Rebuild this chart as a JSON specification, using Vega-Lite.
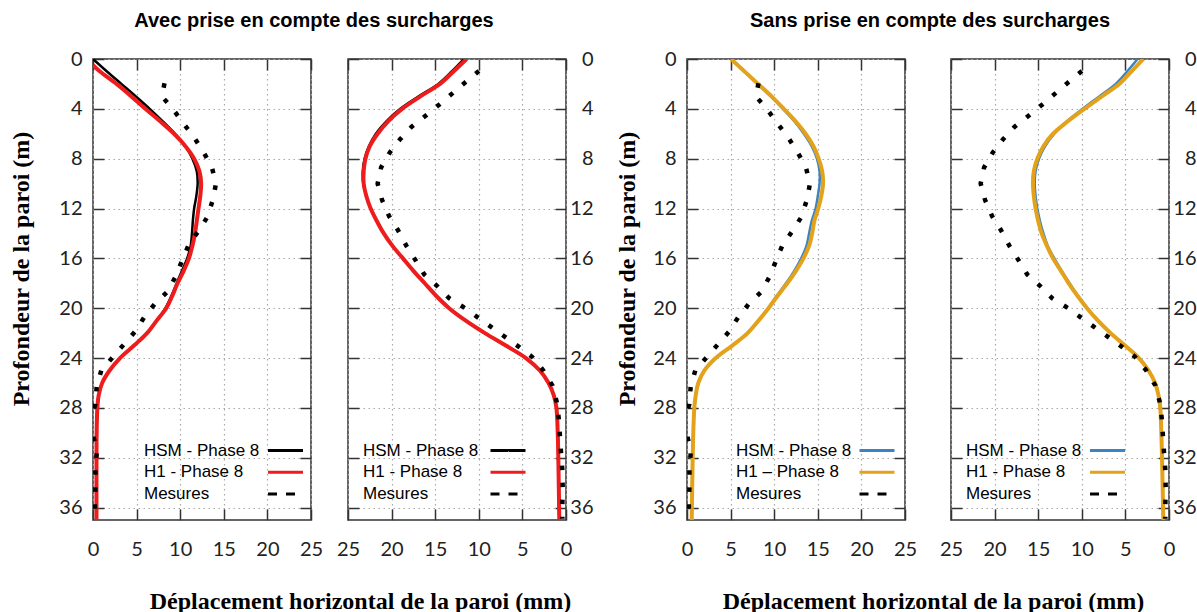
{
  "$schema": "https://vega.github.io/schema/vega-lite/v6.json",
  "autosize": {"type": "none"},
  "padding": {"left": 93, "top": 59, "right": 1104, "bottom": 553},
  "background": "white",
  "bounds": "full",
  "spacing": 20,
  "resolve": {"scale": {"color": "independent"}, "legend": {"color": "independent"}},
  "config": {
    "font": "Liberation Sans",
    "view": {"stroke": "#333333", "strokeWidth": 1.5},
    "axis": {
      "domain": false, "labelFont": "Lato", "labelFontSize": 20, "labelColor": "#222222",
      "labelFlush": false, "labelOverlap": false, "labelBound": false,
      "tickColor": "#333333", "tickWidth": 1.5, "tickSize": -11,
      "gridColor": "#a8a8a8", "gridDash": [1.5, 3.5], "gridWidth": 1.2,
      "titleFont": "Liberation Serif", "titleFontSize": 24, "titleFontWeight": "bold", "titleColor": "black"
    },
    "legend": {
      "labelFont": "Liberation Sans", "labelFontSize": 17, "labelColor": "black",
      "symbolType": "M-3.5,0H3.5", "symbolSize": 100, "symbolStrokeWidth": 3,
      "rowPadding": 3.8, "padding": 0
    },
    "title": {"font": "Liberation Sans", "fontSize": 20, "fontWeight": "bold", "color": "black"}
  },
  "datasets": {
    "mes45": [
      {"s":"Mesures","x":8.2,"d":1.95},{"s":"Mesures","x":7.9,"d":3.0},{"s":"Mesures","x":9.2,"d":4.05},{"s":"Mesures","x":10.4,"d":5.2},
      {"s":"Mesures","x":11.6,"d":6.3},{"s":"Mesures","x":12.6,"d":7.4},{"s":"Mesures","x":13.6,"d":8.6},{"s":"Mesures","x":14.1,"d":10.0},
      {"s":"Mesures","x":13.75,"d":11.3},{"s":"Mesures","x":13.1,"d":12.7},{"s":"Mesures","x":12.1,"d":13.8},{"s":"Mesures","x":10.95,"d":14.95},
      {"s":"Mesures","x":10.2,"d":16.2},{"s":"Mesures","x":9.45,"d":17.5},{"s":"Mesures","x":8.5,"d":18.7},{"s":"Mesures","x":7.1,"d":19.65},
      {"s":"Mesures","x":5.9,"d":20.7},{"s":"Mesures","x":4.8,"d":21.9},{"s":"Mesures","x":3.55,"d":22.9},{"s":"Mesures","x":2.3,"d":23.9},
      {"s":"Mesures","x":0.95,"d":25.0},{"s":"Mesures","x":0.42,"d":26.3},{"s":"Mesures","x":0.27,"d":27.7},{"s":"Mesures","x":-0.3,"d":29.0},
      {"s":"Mesures","x":0.0,"d":30.2},{"s":"Mesures","x":0.46,"d":31.4},{"s":"Mesures","x":0.27,"d":32.8},{"s":"Mesures","x":0.3,"d":34.1},
      {"s":"Mesures","x":0.2,"d":35.5},{"s":"Mesures","x":0.25,"d":36.9}
    ],
    "mes10": [
      {"s":"Mesures","x":9.98,"d":0.96},{"s":"Mesures","x":11.6,"d":1.9},{"s":"Mesures","x":13.1,"d":2.8},{"s":"Mesures","x":14.6,"d":3.7},
      {"s":"Mesures","x":16.1,"d":4.55},{"s":"Mesures","x":17.7,"d":5.43},{"s":"Mesures","x":19.0,"d":6.42},{"s":"Mesures","x":20.2,"d":7.5},
      {"s":"Mesures","x":21.2,"d":8.7},{"s":"Mesures","x":21.6,"d":10.0},{"s":"Mesures","x":21.1,"d":11.3},{"s":"Mesures","x":20.3,"d":12.6},
      {"s":"Mesures","x":19.3,"d":13.7},{"s":"Mesures","x":18.3,"d":15.0},{"s":"Mesures","x":17.3,"d":16.1},{"s":"Mesures","x":16.25,"d":17.3},
      {"s":"Mesures","x":14.8,"d":18.2},{"s":"Mesures","x":13.4,"d":19.2},{"s":"Mesures","x":11.8,"d":19.9},{"s":"Mesures","x":10.2,"d":20.7},
      {"s":"Mesures","x":8.6,"d":21.5},{"s":"Mesures","x":7.0,"d":22.3},{"s":"Mesures","x":5.4,"d":23.1},{"s":"Mesures","x":3.9,"d":23.9},
      {"s":"Mesures","x":2.6,"d":25.0},{"s":"Mesures","x":1.57,"d":26.2},{"s":"Mesures","x":1.07,"d":27.5},{"s":"Mesures","x":0.84,"d":28.8},
      {"s":"Mesures","x":0.69,"d":30.3},{"s":"Mesures","x":0.57,"d":31.6},{"s":"Mesures","x":0.42,"d":33.0},{"s":"Mesures","x":0.38,"d":34.4},
      {"s":"Mesures","x":0.42,"d":35.8},{"s":"Mesures","x":0.42,"d":36.9}
    ],
    "p45a_hsm": [
      {"s":"HSM - Phase 8","x":0,"d":0},{"s":"HSM - Phase 8","x":1.6,"d":1},{"s":"HSM - Phase 8","x":3.25,"d":2},{"s":"HSM - Phase 8","x":4.9,"d":3},
      {"s":"HSM - Phase 8","x":6.5,"d":4},{"s":"HSM - Phase 8","x":8.0,"d":5},{"s":"HSM - Phase 8","x":9.4,"d":6},{"s":"HSM - Phase 8","x":10.6,"d":7},
      {"s":"HSM - Phase 8","x":11.4,"d":8},{"s":"HSM - Phase 8","x":11.9,"d":9},{"s":"HSM - Phase 8","x":12.0,"d":10},{"s":"HSM - Phase 8","x":11.85,"d":11},
      {"s":"HSM - Phase 8","x":11.6,"d":12},{"s":"HSM - Phase 8","x":11.45,"d":13},{"s":"HSM - Phase 8","x":11.35,"d":14},{"s":"HSM - Phase 8","x":11.2,"d":15},
      {"s":"HSM - Phase 8","x":10.8,"d":16},{"s":"HSM - Phase 8","x":10.2,"d":17},{"s":"HSM - Phase 8","x":9.6,"d":18},{"s":"HSM - Phase 8","x":9.0,"d":19},
      {"s":"HSM - Phase 8","x":8.3,"d":20},{"s":"HSM - Phase 8","x":7.3,"d":21},{"s":"HSM - Phase 8","x":6.2,"d":22},{"s":"HSM - Phase 8","x":4.7,"d":23},
      {"s":"HSM - Phase 8","x":3.1,"d":24},{"s":"HSM - Phase 8","x":1.9,"d":25},{"s":"HSM - Phase 8","x":1.05,"d":26},{"s":"HSM - Phase 8","x":0.65,"d":27},
      {"s":"HSM - Phase 8","x":0.5,"d":28},{"s":"HSM - Phase 8","x":0.42,"d":30},{"s":"HSM - Phase 8","x":0.4,"d":33},{"s":"HSM - Phase 8","x":0.4,"d":37}
    ],
    "p45a_h1": [
      {"s":"H1 - Phase 8","x":0,"d":0.5},{"s":"H1 - Phase 8","x":0.8,"d":1},{"s":"H1 - Phase 8","x":2.7,"d":2},{"s":"H1 - Phase 8","x":4.4,"d":3},
      {"s":"H1 - Phase 8","x":6.0,"d":4},{"s":"H1 - Phase 8","x":7.7,"d":5},{"s":"H1 - Phase 8","x":9.3,"d":6},{"s":"H1 - Phase 8","x":10.6,"d":7},
      {"s":"H1 - Phase 8","x":11.6,"d":8},{"s":"H1 - Phase 8","x":12.2,"d":9},{"s":"H1 - Phase 8","x":12.4,"d":10},{"s":"H1 - Phase 8","x":12.3,"d":11},
      {"s":"H1 - Phase 8","x":12.1,"d":12},{"s":"H1 - Phase 8","x":11.9,"d":13},{"s":"H1 - Phase 8","x":11.7,"d":14},{"s":"H1 - Phase 8","x":11.4,"d":15},
      {"s":"H1 - Phase 8","x":11.0,"d":16},{"s":"H1 - Phase 8","x":10.4,"d":17},{"s":"H1 - Phase 8","x":9.7,"d":18},{"s":"H1 - Phase 8","x":9.1,"d":19},
      {"s":"H1 - Phase 8","x":8.4,"d":20},{"s":"H1 - Phase 8","x":7.3,"d":21},{"s":"H1 - Phase 8","x":6.2,"d":22},{"s":"H1 - Phase 8","x":4.7,"d":23},
      {"s":"H1 - Phase 8","x":3.1,"d":24},{"s":"H1 - Phase 8","x":1.9,"d":25},{"s":"H1 - Phase 8","x":1.05,"d":26},{"s":"H1 - Phase 8","x":0.65,"d":27},
      {"s":"H1 - Phase 8","x":0.5,"d":28},{"s":"H1 - Phase 8","x":0.42,"d":30},{"s":"H1 - Phase 8","x":0.4,"d":33},{"s":"H1 - Phase 8","x":0.4,"d":37}
    ],
    "p10a_hsm": [
      {"s":"HSM - Phase 8","x":11.7,"d":0},{"s":"HSM - Phase 8","x":13.1,"d":1},{"s":"HSM - Phase 8","x":14.65,"d":2},{"s":"HSM - Phase 8","x":16.9,"d":3},
      {"s":"HSM - Phase 8","x":19.0,"d":4},{"s":"HSM - Phase 8","x":20.6,"d":5},{"s":"HSM - Phase 8","x":21.8,"d":6},{"s":"HSM - Phase 8","x":22.6,"d":7},
      {"s":"HSM - Phase 8","x":23.1,"d":8},{"s":"HSM - Phase 8","x":23.3,"d":9},{"s":"HSM - Phase 8","x":23.25,"d":10},{"s":"HSM - Phase 8","x":22.9,"d":11},
      {"s":"HSM - Phase 8","x":22.4,"d":12},{"s":"HSM - Phase 8","x":21.7,"d":13},{"s":"HSM - Phase 8","x":20.9,"d":14},{"s":"HSM - Phase 8","x":19.9,"d":15},
      {"s":"HSM - Phase 8","x":18.7,"d":16},{"s":"HSM - Phase 8","x":17.5,"d":17},{"s":"HSM - Phase 8","x":16.2,"d":18},{"s":"HSM - Phase 8","x":14.9,"d":19},
      {"s":"HSM - Phase 8","x":13.4,"d":20},{"s":"HSM - Phase 8","x":11.5,"d":21},{"s":"HSM - Phase 8","x":9.3,"d":22},{"s":"HSM - Phase 8","x":6.9,"d":23},
      {"s":"HSM - Phase 8","x":4.6,"d":24},{"s":"HSM - Phase 8","x":3.0,"d":25},{"s":"HSM - Phase 8","x":2.0,"d":26},{"s":"HSM - Phase 8","x":1.4,"d":27},
      {"s":"HSM - Phase 8","x":1.1,"d":28},{"s":"HSM - Phase 8","x":0.95,"d":30},{"s":"HSM - Phase 8","x":0.88,"d":32},{"s":"HSM - Phase 8","x":0.77,"d":37}
    ],
    "p10a_h1": [
      {"s":"H1 - Phase 8","x":11.4,"d":0},{"s":"H1 - Phase 8","x":12.9,"d":1},{"s":"H1 - Phase 8","x":14.45,"d":2},{"s":"H1 - Phase 8","x":16.7,"d":3},
      {"s":"H1 - Phase 8","x":18.8,"d":4},{"s":"H1 - Phase 8","x":20.4,"d":5},{"s":"H1 - Phase 8","x":21.6,"d":6},{"s":"H1 - Phase 8","x":22.5,"d":7},
      {"s":"H1 - Phase 8","x":23.0,"d":8},{"s":"H1 - Phase 8","x":23.2,"d":9},{"s":"H1 - Phase 8","x":23.2,"d":10},{"s":"H1 - Phase 8","x":22.9,"d":11},
      {"s":"H1 - Phase 8","x":22.4,"d":12},{"s":"H1 - Phase 8","x":21.7,"d":13},{"s":"H1 - Phase 8","x":20.9,"d":14},{"s":"H1 - Phase 8","x":19.9,"d":15},
      {"s":"H1 - Phase 8","x":18.7,"d":16},{"s":"H1 - Phase 8","x":17.5,"d":17},{"s":"H1 - Phase 8","x":16.2,"d":18},{"s":"H1 - Phase 8","x":14.9,"d":19},
      {"s":"H1 - Phase 8","x":13.4,"d":20},{"s":"H1 - Phase 8","x":11.5,"d":21},{"s":"H1 - Phase 8","x":9.3,"d":22},{"s":"H1 - Phase 8","x":6.9,"d":23},
      {"s":"H1 - Phase 8","x":4.6,"d":24},{"s":"H1 - Phase 8","x":3.0,"d":25},{"s":"H1 - Phase 8","x":2.0,"d":26},{"s":"H1 - Phase 8","x":1.4,"d":27},
      {"s":"H1 - Phase 8","x":1.1,"d":28},{"s":"H1 - Phase 8","x":0.95,"d":30},{"s":"H1 - Phase 8","x":0.88,"d":32},{"s":"H1 - Phase 8","x":0.77,"d":37}
    ],
    "p45s_hsm": [
      {"s":"HSM - Phase 8","x":5.05,"d":0},{"s":"HSM - Phase 8","x":6.6,"d":1},{"s":"HSM - Phase 8","x":8.1,"d":2},{"s":"HSM - Phase 8","x":9.6,"d":3},
      {"s":"HSM - Phase 8","x":11.0,"d":4},{"s":"HSM - Phase 8","x":12.3,"d":5},{"s":"HSM - Phase 8","x":13.4,"d":6},{"s":"HSM - Phase 8","x":14.3,"d":7},
      {"s":"HSM - Phase 8","x":14.9,"d":8},{"s":"HSM - Phase 8","x":15.2,"d":9},{"s":"HSM - Phase 8","x":15.2,"d":10},{"s":"HSM - Phase 8","x":15.0,"d":11},
      {"s":"HSM - Phase 8","x":14.75,"d":12},{"s":"HSM - Phase 8","x":14.3,"d":13},{"s":"HSM - Phase 8","x":14.0,"d":14},{"s":"HSM - Phase 8","x":13.7,"d":15},
      {"s":"HSM - Phase 8","x":13.1,"d":16},{"s":"HSM - Phase 8","x":12.3,"d":17},{"s":"HSM - Phase 8","x":11.35,"d":18},{"s":"HSM - Phase 8","x":10.3,"d":19},
      {"s":"HSM - Phase 8","x":9.3,"d":20},{"s":"HSM - Phase 8","x":8.2,"d":21},{"s":"HSM - Phase 8","x":6.95,"d":22},{"s":"HSM - Phase 8","x":5.2,"d":23},
      {"s":"HSM - Phase 8","x":3.3,"d":24},{"s":"HSM - Phase 8","x":2.0,"d":25},{"s":"HSM - Phase 8","x":1.3,"d":26},{"s":"HSM - Phase 8","x":1.0,"d":27},
      {"s":"HSM - Phase 8","x":0.84,"d":28},{"s":"HSM - Phase 8","x":0.72,"d":30},{"s":"HSM - Phase 8","x":0.65,"d":32},{"s":"HSM - Phase 8","x":0.54,"d":37}
    ],
    "p45s_h1": [
      {"s":"H1 – Phase 8","x":5.05,"d":0},{"s":"H1 – Phase 8","x":6.6,"d":1},{"s":"H1 – Phase 8","x":8.15,"d":2},{"s":"H1 – Phase 8","x":9.7,"d":3},
      {"s":"H1 – Phase 8","x":11.1,"d":4},{"s":"H1 – Phase 8","x":12.45,"d":5},{"s":"H1 – Phase 8","x":13.6,"d":6},{"s":"H1 – Phase 8","x":14.5,"d":7},
      {"s":"H1 – Phase 8","x":15.1,"d":8},{"s":"H1 – Phase 8","x":15.5,"d":9},{"s":"H1 – Phase 8","x":15.6,"d":10},{"s":"H1 – Phase 8","x":15.4,"d":11},
      {"s":"H1 – Phase 8","x":15.05,"d":12},{"s":"H1 – Phase 8","x":14.6,"d":13},{"s":"H1 – Phase 8","x":14.35,"d":14},{"s":"H1 – Phase 8","x":14.0,"d":15},
      {"s":"H1 – Phase 8","x":13.35,"d":16},{"s":"H1 – Phase 8","x":12.5,"d":17},{"s":"H1 – Phase 8","x":11.5,"d":18},{"s":"H1 – Phase 8","x":10.4,"d":19},
      {"s":"H1 – Phase 8","x":9.35,"d":20},{"s":"H1 – Phase 8","x":8.2,"d":21},{"s":"H1 – Phase 8","x":6.95,"d":22},{"s":"H1 – Phase 8","x":5.2,"d":23},
      {"s":"H1 – Phase 8","x":3.3,"d":24},{"s":"H1 – Phase 8","x":2.0,"d":25},{"s":"H1 – Phase 8","x":1.3,"d":26},{"s":"H1 – Phase 8","x":1.0,"d":27},
      {"s":"H1 – Phase 8","x":0.84,"d":28},{"s":"H1 – Phase 8","x":0.72,"d":30},{"s":"H1 – Phase 8","x":0.65,"d":32},{"s":"H1 – Phase 8","x":0.54,"d":37}
    ],
    "p10s_hsm": [
      {"s":"HSM - Phase 8","x":3.6,"d":0},{"s":"HSM - Phase 8","x":4.8,"d":1},{"s":"HSM - Phase 8","x":6.1,"d":2},{"s":"HSM - Phase 8","x":8.0,"d":3},
      {"s":"HSM - Phase 8","x":9.9,"d":4},{"s":"HSM - Phase 8","x":11.7,"d":5},{"s":"HSM - Phase 8","x":13.15,"d":6},{"s":"HSM - Phase 8","x":14.2,"d":7},
      {"s":"HSM - Phase 8","x":14.9,"d":8},{"s":"HSM - Phase 8","x":15.3,"d":9},{"s":"HSM - Phase 8","x":15.4,"d":10},{"s":"HSM - Phase 8","x":15.3,"d":11},
      {"s":"HSM - Phase 8","x":15.1,"d":12},{"s":"HSM - Phase 8","x":14.8,"d":13},{"s":"HSM - Phase 8","x":14.4,"d":14},{"s":"HSM - Phase 8","x":13.9,"d":15},
      {"s":"HSM - Phase 8","x":13.15,"d":16},{"s":"HSM - Phase 8","x":12.3,"d":17},{"s":"HSM - Phase 8","x":11.4,"d":18},{"s":"HSM - Phase 8","x":10.45,"d":19},
      {"s":"HSM - Phase 8","x":9.35,"d":20},{"s":"HSM - Phase 8","x":8.1,"d":21},{"s":"HSM - Phase 8","x":6.65,"d":22},{"s":"HSM - Phase 8","x":5.0,"d":23},
      {"s":"HSM - Phase 8","x":3.4,"d":24},{"s":"HSM - Phase 8","x":2.3,"d":25},{"s":"HSM - Phase 8","x":1.6,"d":26},{"s":"HSM - Phase 8","x":1.2,"d":27},
      {"s":"HSM - Phase 8","x":1.0,"d":28},{"s":"HSM - Phase 8","x":0.88,"d":30},{"s":"HSM - Phase 8","x":0.8,"d":32},{"s":"HSM - Phase 8","x":0.65,"d":37}
    ],
    "p10s_h1": [
      {"s":"H1 - Phase 8","x":2.95,"d":0},{"s":"H1 - Phase 8","x":4.3,"d":1},{"s":"H1 - Phase 8","x":5.7,"d":2},{"s":"H1 - Phase 8","x":7.7,"d":3},
      {"s":"H1 - Phase 8","x":9.7,"d":4},{"s":"H1 - Phase 8","x":11.6,"d":5},{"s":"H1 - Phase 8","x":13.3,"d":6},{"s":"H1 - Phase 8","x":14.4,"d":7},
      {"s":"H1 - Phase 8","x":15.1,"d":8},{"s":"H1 - Phase 8","x":15.5,"d":9},{"s":"H1 - Phase 8","x":15.6,"d":10},{"s":"H1 - Phase 8","x":15.5,"d":11},
      {"s":"H1 - Phase 8","x":15.3,"d":12},{"s":"H1 - Phase 8","x":15.0,"d":13},{"s":"H1 - Phase 8","x":14.6,"d":14},{"s":"H1 - Phase 8","x":14.0,"d":15},
      {"s":"H1 - Phase 8","x":13.3,"d":16},{"s":"H1 - Phase 8","x":12.4,"d":17},{"s":"H1 - Phase 8","x":11.5,"d":18},{"s":"H1 - Phase 8","x":10.5,"d":19},
      {"s":"H1 - Phase 8","x":9.4,"d":20},{"s":"H1 - Phase 8","x":8.15,"d":21},{"s":"H1 - Phase 8","x":6.7,"d":22},{"s":"H1 - Phase 8","x":5.05,"d":23},
      {"s":"H1 - Phase 8","x":3.45,"d":24},{"s":"H1 - Phase 8","x":2.35,"d":25},{"s":"H1 - Phase 8","x":1.6,"d":26},{"s":"H1 - Phase 8","x":1.2,"d":27},
      {"s":"H1 - Phase 8","x":1.0,"d":28},{"s":"H1 - Phase 8","x":0.88,"d":30},{"s":"H1 - Phase 8","x":0.8,"d":32},{"s":"H1 - Phase 8","x":0.65,"d":37}
    ]
  },
  "hconcat": [
    {
      "bounds": "flush",
      "spacing": 37,
      "resolve": {"scale": {"color": "independent"}, "legend": {"color": "independent"}},
      "hconcat": [
        {
          "title": {"text": "Avec prise en compte des surcharges", "anchor": "middle", "frame": "group", "dx": 112, "baseline": "alphabetic", "offset": 2},
          "width": 218, "height": 461,
          "resolve": {"axis": {"x": "independent", "y": "independent"}},
          "layer": [
            {
              "data": {"name": "p45a_hsm"},
              "mark": {"type": "line", "strokeWidth": 2.5, "interpolate": "catmull-rom", "clip": true},
              "encoding": {
                "x": {"field": "x", "type": "quantitative", "scale": {"domain": [0, 25], "nice": false, "zero": false},
                  "axis": {"orient": "bottom", "values": [0, 5, 10, 15, 20, 25], "grid": true, "labelPadding": 30,
                    "title": "Déplacement horizontal de la paroi (mm)", "titleX": 267, "titleY": 88, "titleBaseline": "alphabetic", "titleAlign": "center"}},
                "y": {"field": "d", "type": "quantitative", "scale": {"domain": [0, 37], "reverse": true, "nice": false, "zero": false},
                  "axis": {"orient": "left", "values": [0, 4, 8, 12, 16, 20, 24, 28, 32, 36], "grid": true, "labelPadding": 22,
                    "title": "Profondeur de la paroi (m)", "titleX": -65, "titleY": 209.5, "titleAngle": 270, "titleBaseline": "alphabetic", "titleAlign": "center"}},
                "order": {"field": "d", "type": "quantitative"},
                "color": {"field": "s", "type": "nominal",
                  "scale": {"domain": ["HSM - Phase 8", "H1 - Phase 8", "Mesures"], "range": ["#000000", "#ee1c1c", "#000000"]},
                  "legend": {"title": null, "orient": "none", "legendX": 51, "legendY": 383,
                    "encode": {
                      "labels": {"update": {"x": {"value": 0}, "align": {"value": "left"}}},
                      "symbols": {"update": {"x": {"value": 141.5}, "opacity": {"value": 1}, "fill": {"value": "transparent"},
                        "stroke": {"signal": "datum.value === 'H1 - Phase 8' ? '#ee1c1c' : '#000000'"},
                        "strokeWidth": {"value": 3}, "strokeDash": {"signal": "datum.value === 'Mesures' ? [9, 9] : [1, 0]"}}}
                    }}}
              }
            },
            {
              "data": {"name": "p45a_h1"},
              "mark": {"type": "line", "strokeWidth": 4, "interpolate": "catmull-rom", "clip": true},
              "encoding": {
                "x": {"field": "x", "type": "quantitative", "axis": {"orient": "top", "values": [0, 5, 10, 15, 20, 25], "labels": false, "grid": false, "title": null}},
                "y": {"field": "d", "type": "quantitative", "axis": {"orient": "right", "values": [0, 4, 8, 12, 16, 20, 24, 28, 32, 36], "labels": false, "grid": false, "title": null}},
                "order": {"field": "d", "type": "quantitative"},
                "color": {"field": "s", "type": "nominal"}
              }
            },
            {
              "data": {"name": "mes45"},
              "mark": {"type": "line", "strokeWidth": 4.5, "strokeDash": [4.5, 12.5], "strokeCap": "butt", "clip": true},
              "encoding": {
                "x": {"field": "x", "type": "quantitative", "axis": null},
                "y": {"field": "d", "type": "quantitative", "axis": null},
                "order": {"field": "d", "type": "quantitative"},
                "color": {"field": "s", "type": "nominal"}
              }
            }
          ]
        },
        {
          "width": 218, "height": 461,
          "resolve": {"axis": {"x": "independent", "y": "independent"}},
          "layer": [
            {
              "data": {"name": "p10a_hsm"},
              "mark": {"type": "line", "strokeWidth": 2.5, "interpolate": "catmull-rom", "clip": true},
              "encoding": {
                "x": {"field": "x", "type": "quantitative", "scale": {"domain": [0, 25], "reverse": true, "nice": false, "zero": false},
                  "axis": {"orient": "bottom", "values": [0, 5, 10, 15, 20, 25], "grid": true, "labelPadding": 30, "title": null}},
                "y": {"field": "d", "type": "quantitative", "scale": {"domain": [0, 37], "reverse": true, "nice": false, "zero": false},
                  "axis": {"orient": "right", "values": [0, 4, 8, 12, 16, 20, 24, 28, 32, 36], "grid": true, "labelPadding": 38, "labelAlign": "right", "title": null}},
                "order": {"field": "d", "type": "quantitative"},
                "color": {"field": "s", "type": "nominal",
                  "scale": {"domain": ["HSM - Phase 8", "H1 - Phase 8", "Mesures"], "range": ["#000000", "#ee1c1c", "#000000"]},
                  "legend": {"title": null, "orient": "none", "legendX": 15, "legendY": 383,
                    "encode": {
                      "labels": {"update": {"x": {"value": 0}, "align": {"value": "left"}}},
                      "symbols": {"update": {"x": {"value": 145}, "opacity": {"value": 1}, "fill": {"value": "transparent"},
                        "stroke": {"signal": "datum.value === 'H1 - Phase 8' ? '#ee1c1c' : '#000000'"},
                        "strokeWidth": {"value": 3}, "strokeDash": {"signal": "datum.value === 'Mesures' ? [9, 9] : [1, 0]"}}}
                    }}}
              }
            },
            {
              "data": {"name": "p10a_h1"},
              "mark": {"type": "line", "strokeWidth": 4, "interpolate": "catmull-rom", "clip": true},
              "encoding": {
                "x": {"field": "x", "type": "quantitative", "axis": {"orient": "top", "values": [0, 5, 10, 15, 20, 25], "labels": false, "grid": false, "title": null}},
                "y": {"field": "d", "type": "quantitative", "axis": {"orient": "left", "values": [0, 4, 8, 12, 16, 20, 24, 28, 32, 36], "labels": false, "grid": false, "title": null}},
                "order": {"field": "d", "type": "quantitative"},
                "color": {"field": "s", "type": "nominal"}
              }
            },
            {
              "data": {"name": "mes10"},
              "mark": {"type": "line", "strokeWidth": 4.5, "strokeDash": [4.5, 12.5], "strokeCap": "butt", "clip": true},
              "encoding": {
                "x": {"field": "x", "type": "quantitative", "axis": null},
                "y": {"field": "d", "type": "quantitative", "axis": null},
                "order": {"field": "d", "type": "quantitative"},
                "color": {"field": "s", "type": "nominal"}
              }
            }
          ]
        }
      ]
    },
    {
      "bounds": "flush",
      "spacing": 46,
      "resolve": {"scale": {"color": "independent"}, "legend": {"color": "independent"}},
      "hconcat": [
        {
          "title": {"text": "Sans prise en compte des surcharges", "anchor": "middle", "frame": "group", "dx": 134, "baseline": "alphabetic", "offset": 2},
          "width": 218, "height": 461,
          "resolve": {"axis": {"x": "independent", "y": "independent"}},
          "layer": [
            {
              "data": {"name": "p45s_hsm"},
              "mark": {"type": "line", "strokeWidth": 2.5, "interpolate": "catmull-rom", "clip": true},
              "encoding": {
                "x": {"field": "x", "type": "quantitative", "scale": {"domain": [0, 25], "nice": false, "zero": false},
                  "axis": {"orient": "bottom", "values": [0, 5, 10, 15, 20, 25], "grid": true, "labelPadding": 30,
                    "title": "Déplacement horizontal de la paroi (mm)", "titleX": 246, "titleY": 88, "titleBaseline": "alphabetic", "titleAlign": "center"}},
                "y": {"field": "d", "type": "quantitative", "scale": {"domain": [0, 37], "reverse": true, "nice": false, "zero": false},
                  "axis": {"orient": "left", "values": [0, 4, 8, 12, 16, 20, 24, 28, 32, 36], "grid": true, "labelPadding": 22,
                    "title": "Profondeur de la paroi (m)", "titleX": -53, "titleY": 209.5, "titleAngle": 270, "titleBaseline": "alphabetic", "titleAlign": "center"}},
                "order": {"field": "d", "type": "quantitative"},
                "color": {"field": "s", "type": "nominal",
                  "scale": {"domain": ["HSM - Phase 8", "H1 – Phase 8", "Mesures"], "range": ["#3a84c4", "#e3a21a", "#000000"]},
                  "legend": {"title": null, "orient": "none", "legendX": 49, "legendY": 383,
                    "encode": {
                      "labels": {"update": {"x": {"value": 0}, "align": {"value": "left"}}},
                      "symbols": {"update": {"x": {"value": 141}, "opacity": {"value": 1}, "fill": {"value": "transparent"},
                        "stroke": {"signal": "datum.value === 'Mesures' ? '#000000' : datum.value === 'HSM - Phase 8' ? '#3a84c4' : '#e3a21a'"},
                        "strokeWidth": {"value": 3}, "strokeDash": {"signal": "datum.value === 'Mesures' ? [9, 9] : [1, 0]"}}}
                    }}}
              }
            },
            {
              "data": {"name": "p45s_h1"},
              "mark": {"type": "line", "strokeWidth": 4, "interpolate": "catmull-rom", "clip": true},
              "encoding": {
                "x": {"field": "x", "type": "quantitative", "axis": {"orient": "top", "values": [0, 5, 10, 15, 20, 25], "labels": false, "grid": false, "title": null}},
                "y": {"field": "d", "type": "quantitative", "axis": {"orient": "right", "values": [0, 4, 8, 12, 16, 20, 24, 28, 32, 36], "labels": false, "grid": false, "title": null}},
                "order": {"field": "d", "type": "quantitative"},
                "color": {"field": "s", "type": "nominal"}
              }
            },
            {
              "data": {"name": "mes45"},
              "mark": {"type": "line", "strokeWidth": 4.5, "strokeDash": [4.5, 12.5], "strokeCap": "butt", "clip": true},
              "encoding": {
                "x": {"field": "x", "type": "quantitative", "axis": null},
                "y": {"field": "d", "type": "quantitative", "axis": null},
                "order": {"field": "d", "type": "quantitative"},
                "color": {"field": "s", "type": "nominal"}
              }
            }
          ]
        },
        {
          "width": 218, "height": 461,
          "resolve": {"axis": {"x": "independent", "y": "independent"}},
          "layer": [
            {
              "data": {"name": "p10s_hsm"},
              "mark": {"type": "line", "strokeWidth": 2.5, "interpolate": "catmull-rom", "clip": true},
              "encoding": {
                "x": {"field": "x", "type": "quantitative", "scale": {"domain": [0, 25], "reverse": true, "nice": false, "zero": false},
                  "axis": {"orient": "bottom", "values": [0, 5, 10, 15, 20, 25], "grid": true, "labelPadding": 30, "title": null}},
                "y": {"field": "d", "type": "quantitative", "scale": {"domain": [0, 37], "reverse": true, "nice": false, "zero": false},
                  "axis": {"orient": "right", "values": [0, 4, 8, 12, 16, 20, 24, 28, 32, 36], "grid": true, "labelPadding": 38, "labelAlign": "right", "title": null}},
                "order": {"field": "d", "type": "quantitative"},
                "color": {"field": "s", "type": "nominal",
                  "scale": {"domain": ["HSM - Phase 8", "H1 - Phase 8", "Mesures"], "range": ["#3a84c4", "#e3a21a", "#000000"]},
                  "legend": {"title": null, "orient": "none", "legendX": 15, "legendY": 383,
                    "encode": {
                      "labels": {"update": {"x": {"value": 0}, "align": {"value": "left"}}},
                      "symbols": {"update": {"x": {"value": 141.5}, "opacity": {"value": 1}, "fill": {"value": "transparent"},
                        "stroke": {"signal": "datum.value === 'Mesures' ? '#000000' : datum.value === 'HSM - Phase 8' ? '#3a84c4' : '#e3a21a'"},
                        "strokeWidth": {"value": 3}, "strokeDash": {"signal": "datum.value === 'Mesures' ? [9, 9] : [1, 0]"}}}
                    }}}
              }
            },
            {
              "data": {"name": "p10s_h1"},
              "mark": {"type": "line", "strokeWidth": 4, "interpolate": "catmull-rom", "clip": true},
              "encoding": {
                "x": {"field": "x", "type": "quantitative", "axis": {"orient": "top", "values": [0, 5, 10, 15, 20, 25], "labels": false, "grid": false, "title": null}},
                "y": {"field": "d", "type": "quantitative", "axis": {"orient": "left", "values": [0, 4, 8, 12, 16, 20, 24, 28, 32, 36], "labels": false, "grid": false, "title": null}},
                "order": {"field": "d", "type": "quantitative"},
                "color": {"field": "s", "type": "nominal"}
              }
            },
            {
              "data": {"name": "mes10"},
              "mark": {"type": "line", "strokeWidth": 4.5, "strokeDash": [4.5, 12.5], "strokeCap": "butt", "clip": true},
              "encoding": {
                "x": {"field": "x", "type": "quantitative", "axis": null},
                "y": {"field": "d", "type": "quantitative", "axis": null},
                "order": {"field": "d", "type": "quantitative"},
                "color": {"field": "s", "type": "nominal"}
              }
            }
          ]
        }
      ]
    }
  ]
}
